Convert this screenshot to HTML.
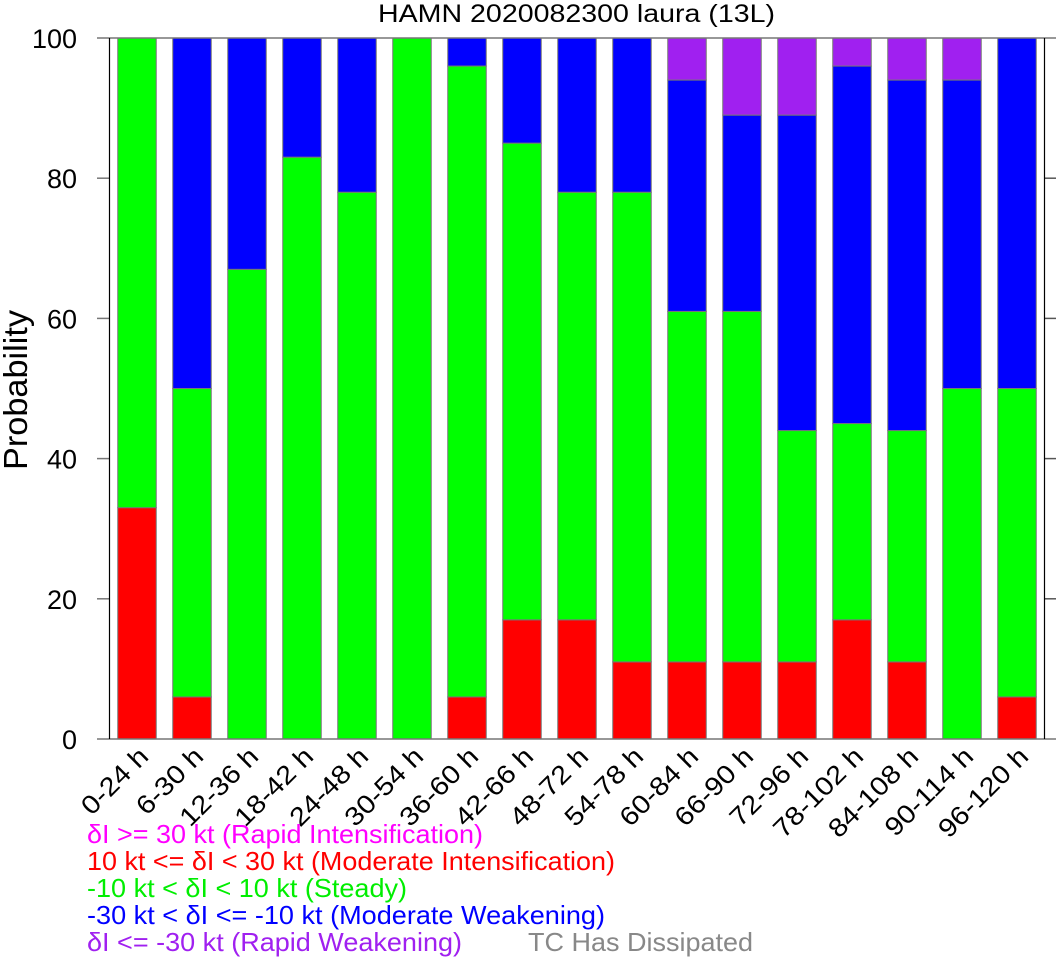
<!DOCTYPE html>
<html><head><meta charset="utf-8"><style>
body{margin:0;background:#fff}
svg{display:block;font-family:"Liberation Sans",sans-serif}
</style></head><body>
<svg id="chart" width="1057" height="960" viewBox="0 0 1057 960" xmlns="http://www.w3.org/2000/svg">
<text x="378" y="22" font-size="25" textLength="397" lengthAdjust="spacingAndGlyphs">HAMN 2020082300 laura (13L)</text>
<text transform="translate(27,390) rotate(-90)" font-size="33" text-anchor="middle" textLength="160" lengthAdjust="spacingAndGlyphs">Probability</text>
<g id="bars"></g>
<g id="axes"></g>
<g font-size="26">
<text x="87" y="843" fill="#ff00ff" textLength="396" lengthAdjust="spacingAndGlyphs">δI &gt;= 30 kt (Rapid Intensification)</text>
<text x="87" y="870" fill="#ff0000" textLength="528" lengthAdjust="spacingAndGlyphs">10 kt &lt;= δI &lt; 30 kt (Moderate Intensification)</text>
<text x="87" y="897" fill="#00ee00" textLength="320" lengthAdjust="spacingAndGlyphs">-10 kt &lt; δI &lt; 10 kt (Steady)</text>
<text x="87" y="924" fill="#0000ff" textLength="518" lengthAdjust="spacingAndGlyphs">-30 kt &lt; δI &lt;= -10 kt (Moderate Weakening)</text>
<text x="87" y="951" fill="#a020f0" textLength="375" lengthAdjust="spacingAndGlyphs">δI &lt;= -30 kt (Rapid Weakening)</text>
<text x="528" y="951" fill="#888888" textLength="225" lengthAdjust="spacingAndGlyphs">TC Has Dissipated</text>
</g>
</svg>
<script>
const categories=["0-24 h","6-30 h","12-36 h","18-42 h","24-48 h","30-54 h","36-60 h","42-66 h","48-72 h","54-78 h","60-84 h","66-90 h","72-96 h","78-102 h","84-108 h","90-114 h","96-120 h"];
const rapidInt=[0,0,0,0,0,0,0,0,0,0,0,0,0,0,0,0,0];
const moderateInt=[33,6,0,0,0,0,6,17,17,11,11,11,11,17,11,0,6];
const steady=[67,44,67,83,78,100,90,68,61,67,50,50,33,28,33,50,44];
const moderateWeak=[0,50,33,17,22,0,4,15,22,22,33,28,45,51,50,44,50];
const rapidWeak=[0,0,0,0,0,0,0,0,0,0,6,11,11,4,6,6,0];
const yTicks=[0,20,40,60,80,100];

const NS="http://www.w3.org/2000/svg";
const L=109.5,R=1044.5,T=38,B=739,step=(R-L)/categories.length,bw=38.5;
const y=v=>B-(B-T)*v/100;
const xc=i=>L+step*(i+0.5);
function mk(t,a,p){const e=document.createElementNS(NS,t);for(const k in a)e.setAttribute(k,a[k]);p.appendChild(e);return e;}
const bars=document.getElementById('bars'),axes=document.getElementById('axes');
const series=[["moderate-int",moderateInt,"#ff0000"],["steady",steady,"#00ff00"],["moderate-weak",moderateWeak,"#0000ff"],["rapid-weak",rapidWeak,"#a020f0"],["rapid-int",rapidInt,"#ff00ff"]];
categories.forEach((c,i)=>{
  let base=0;
  series.forEach(s=>{
    const v=s[1][i]; if(v<=0)return;
    const r=mk('rect',{x:xc(i)-bw/2,y:y(base+v),width:bw,height:y(base)-y(base+v),fill:s[2],stroke:'#777','stroke-width':1},bars);
    
    
    base+=v;
  });
  const t=mk('text',{transform:`translate(${xc(i)+13},${B+19}) rotate(-45) scale(1.12,1)`,'font-size':26,'text-anchor':'end'},axes);
  t.textContent=c;
  
  
});
yTicks.forEach(v=>{
  const full=(v===0||v===100);
  const l1=mk('line',{x1:97,x2:full?1056:L,y1:y(v),y2:y(v),stroke:'#777','stroke-width':1.5},axes);
  
  
  if(!full){const l2=mk('line',{x1:R,x2:1056,y1:y(v),y2:y(v),stroke:'#555','stroke-width':1.5},axes);
  
  }
  const t=mk('text',{x:77,y:y(v)+10,'font-size':27,'text-anchor':'end'},axes);
  t.textContent=v;
  
  
});
const s1=mk('line',{x1:L,x2:L,y1:T,y2:B,stroke:'#000','stroke-width':1.2},axes);


const s2=mk('line',{x1:R,x2:R,y1:T,y2:B,stroke:'#000','stroke-width':1.2},axes);


</script>
</body></html>
